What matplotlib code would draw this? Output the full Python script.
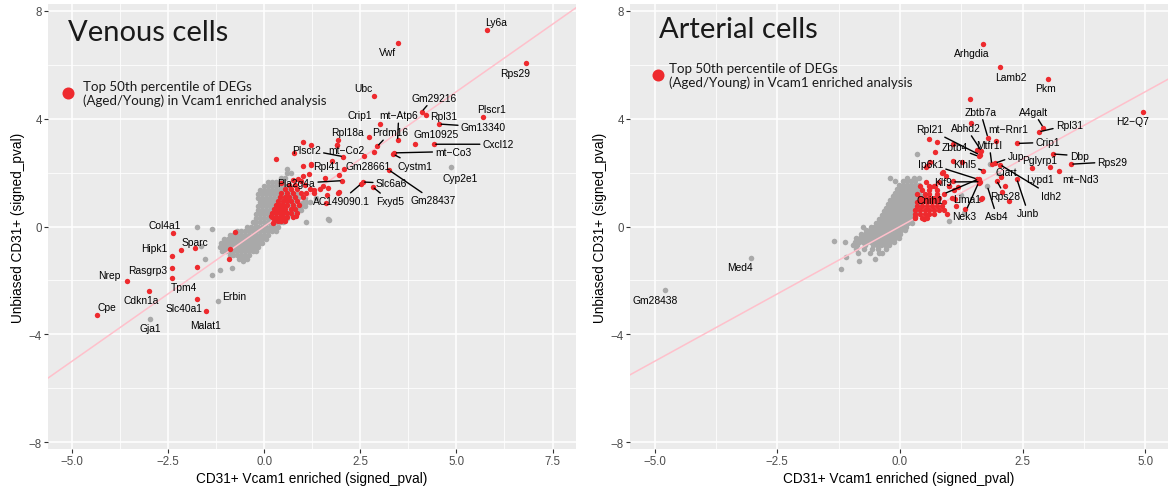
import matplotlib
matplotlib.use("Agg")
import matplotlib.pyplot as plt
from matplotlib.ticker import MultipleLocator

plt.rcParams['font.family'] = ['Liberation Sans', 'DejaVu Sans']

# ---------------- Venous cells ----------------
# background genes, one row per y level: (y, [x values])
venous_bg_rows = [
    (-1.2, [-0.65, -0.55, -0.45]),
    (-1.05, [-0.9, -0.8, -0.7, -0.6, -0.5, -0.4]),
    (-0.9, [-1.1, -1.0, -0.9, -0.8, -0.7, -0.6, -0.5, -0.4, -0.3, -0.2]),
    (-0.75, [-1.15, -1.05, -0.95, -0.85, -0.75, -0.65, -0.55, -0.45, -0.35, -0.25, -0.15]),
    (-0.6, [-1.12, -1.02, -0.92, -0.82, -0.72, -0.62, -0.52, -0.42, -0.32, -0.22, -0.12, -0.05]),
    (-0.45, [-1.05, -0.95, -0.85, -0.75, -0.65, -0.55, -0.45, -0.35, -0.25, -0.15, -0.05, 0.05]),
    (-0.3, [-0.9, -0.8, -0.7, -0.6, -0.5, -0.4, -0.3, -0.2, -0.1, 0.0, 0.1]),
    (-0.15, [-0.7, -0.6, -0.5, -0.4, -0.3, -0.2, -0.1, 0.0, 0.1, 0.2, 0.3]),
    (0.0, [-0.45, -0.35, -0.25, -0.15, -0.05, 0.05, 0.15, 0.25, 0.35]),
    (0.15, [-0.3, -0.2, -0.1, 0.0, 0.1, 0.2, 0.3, 0.4, 0.5]),
    (0.3, [-0.2, -0.1, 0.0, 0.1, 0.2, 0.3, 0.4, 0.5, 0.6]),
    (0.45, [-0.2, -0.1, 0.0, 0.1, 0.2, 0.3, 0.4, 0.5, 0.6, 0.7, 0.8]),
    (0.6, [-0.15, -0.05, 0.05, 0.15, 0.25, 0.35, 0.45, 0.55, 0.65, 0.75, 0.85, 0.95]),
    (0.75, [-0.15, -0.05, 0.05, 0.15, 0.25, 0.35, 0.45, 0.55, 0.65, 0.75, 0.85, 0.95, 1.05]),
    (0.9, [-0.12, -0.02, 0.08, 0.18, 0.28, 0.38, 0.48, 0.58, 0.68, 0.78, 0.88, 0.98, 1.08, 1.18]),
    (1.05, [-0.15, -0.05, 0.05, 0.15, 0.25, 0.35, 0.45, 0.55, 0.65, 0.75, 0.85, 0.95, 1.05, 1.35]),
    (1.2, [-0.15, -0.05, 0.05, 0.15, 0.25, 0.35, 0.45, 0.55, 0.65, 0.75, 0.85]),
    (1.35, [-0.1, 0.0, 0.1, 0.2, 0.3, 0.4, 0.5, 0.6, 0.7]),
    (1.5, [0.0, 0.1, 0.2, 0.3, 0.4, 0.5, 0.6]),
    (1.65, [0.1, 0.2, 0.3, 0.4, 0.5]),
    (1.8, [0.45, 0.55]),
    (2.0, [0.6, 0.7]),
    (2.15, [0.6]),
]
venous_bg_extra_x = [1.69, 1.09, 1.66, -1.74, -1.36, -1.54, -1.35, -1.15, -0.84, -0.54, -1.64]
venous_bg_extra_y = [0.25, 0.16, 0.26, -0.02, -0.09, -1.19, -1.81, -1.60, -1.54, -1.27, -0.73]

# highlighted (top 50th percentile) genes without a label
venous_top_x = [
    0.25, 0.35, 0.45, 0.55,
    0.2, 0.3, 0.4, 0.5, 0.6, 0.75,
    0.2, 0.3, 0.4, 0.5, 0.6, 0.7, 0.85,
    0.25, 0.35, 0.45, 0.55, 0.7, 0.8,
    0.3, 0.4, 0.5, 0.6, 0.75, 0.9,
    0.35, 0.5, 0.6, 0.7, 0.85,
    0.4, 0.55, 0.65, 0.8, 1.0,
    0.45, 0.6, 0.75, 0.95, 1.1, 1.3,
    0.55, 0.7, 0.85, 1.2, 1.45,
    0.45, 0.65, 0.8, 1.05, 1.3, 1.53, 1.65,
    0.75, 0.97, 1.01, 1.16, 1.92, 1.62, 1.01, 1.23,
    1.94, 1.63, 1.59, 1.96, 1.76, 2.59, 2.87, 1.02, 1.22, 0.78, 1.91, 1.90, 0.31,
    0.84, 0.19, 0.23, 0.32, 0.87,
    -0.76, -0.89, -0.92, -2.16, -1.75,
]
venous_top_y = [
    0.2, 0.2, 0.2, 0.2,
    0.35, 0.35, 0.35, 0.35, 0.35, 0.35,
    0.5, 0.5, 0.5, 0.5, 0.5, 0.5, 0.5,
    0.65, 0.65, 0.65, 0.65, 0.65, 0.65,
    0.8, 0.8, 0.8, 0.8, 0.8, 0.8,
    0.95, 0.95, 0.95, 0.95, 0.95,
    1.1, 1.1, 1.1, 1.1, 1.1,
    1.25, 1.25, 1.25, 1.25, 1.25, 1.25,
    1.4, 1.4, 1.4, 1.4, 1.4,
    1.62, 1.55, 1.55, 1.55, 1.35, 1.49, 1.43,
    1.72, 1.68, 1.86, 1.93, 1.25, 0.88, 2.23, 2.29,
    1.27, 1.16, 1.78, 1.90, 2.43, 2.60, 2.77, 3.12, 3.01, 2.74, 3.22, 3.01, 2.51,
    0.38, 0.38, 0.14, 0.69, 1.77,
    -0.20, -0.83, -1.22, -0.88, -1.51,
]

# labelled genes
venous_genes = ["Ly6a", "Vwf", "Rps29", "Ubc", "Gm29216", "Rpl31", "Plscr1", "Crip1",
                "mt\u2212Atp6", "Gm13340", "Rpl18a", "Prdm16", "Gm10925", "Cxcl12",
                "mt\u2212Co3", "Cystm1", "Plscr2", "mt\u2212Co2", "Rpl41", "Gm28661",
                "Gm28437", "Cyp2e1", "Pla2g4a", "Slc6a6", "Fxyd5", "AC149090.1",
                "Col4a1", "Hipk1", "Sparc", "Rasgrp3", "Nrep", "Tpm4", "Cdkn1a",
                "Slc40a1", "Erbin", "Malat1", "Cpe", "Gja1"]
venous_gene_x = [5.79, 3.47, 6.81, 2.87, 4.10, 4.22, 5.68, 3.02,
                 3.47, 4.55, 2.73, 2.94, 3.93, 4.41,
                 3.39, 3.36, 2.06, 1.90, 1.22, 2.07,
                 3.24, 4.85, 2.03, 2.56, 2.82, 2.52,
                 -2.36, -2.40, -1.80, -2.40, -3.57, -2.39, -3.00,
                 -1.74, -1.19, -1.50, -4.35, -2.96]
venous_gene_y = [7.27, 6.79, 6.07, 4.83, 4.26, 4.12, 4.05, 3.81,
                 3.19, 3.80, 3.32, 2.97, 3.06, 3.05,
                 2.73, 2.68, 2.59, 3.01, 2.30, 2.14,
                 2.10, 2.19, 1.70, 1.65, 1.47, 1.58,
                 -0.24, -1.09, -0.79, -1.53, -2.02, -1.91, -2.38,
                 -2.68, -2.78, -3.15, -3.28, -3.44]
venous_gene_top = [True, True, True, True, True, True, True, True,
                   True, True, True, True, True, True,
                   True, True, True, True, True, True,
                   True, False, True, True, True, True,
                   True, True, True, True, True, True, True,
                   True, False, True, True, False]

# ---------------- Arterial cells ----------------
arterial_bg_rows = [
    (-1.57, [-1.21]),
    (-1.27, [-0.83]),
    (-1.2, [-0.51]),
    (-1.14, [-1.09]),
    (-1.0, [-0.85, -0.62, -0.42, -0.37]),
    (-0.85, [-0.9, -0.74, -0.58, -0.44, -0.28]),
    (-0.7, [-0.95, -0.87, -0.71, -0.55, -0.47, -0.39, -0.31, -0.23]),
    (-0.56, [-1.12, -0.92, -0.84, -0.76, -0.68, -0.6, -0.52, -0.44, -0.36, -0.28, -0.2, -0.12]),
    (-0.53, [-1.34]),
    (-0.42, [-0.9, -0.82, -0.74, -0.66, -0.58, -0.5, -0.42, -0.34, -0.26, -0.18, -0.1, -0.02]),
    (-0.28, [-0.8, -0.72, -0.64, -0.56, -0.48, -0.4, -0.32, -0.24, -0.16, -0.08, 0.0]),
    (-0.14, [-0.7, -0.62, -0.54, -0.46, -0.38, -0.3, -0.22, -0.14, -0.06, 0.02, 0.1]),
    (0.0, [-0.75, -0.6, -0.52, -0.44, -0.36, -0.28, -0.2, -0.12, -0.04, 0.04, 0.12]),
    (0.14, [-0.48, -0.4, -0.32, -0.24, -0.16, -0.08, 0.0, 0.08, 0.16, 0.24]),
    (0.28, [-0.42, -0.34, -0.26, -0.18, -0.1, -0.02, 0.06, 0.14, 0.22]),
    (0.42, [-0.36, -0.28, -0.2, -0.12, -0.04, 0.04, 0.12, 0.2, 0.28]),
    (0.56, [-0.32, -0.24, -0.16, -0.08, 0.0, 0.08, 0.16, 0.24, 0.32]),
    (0.7, [-0.28, -0.2, -0.12, -0.04, 0.04, 0.12, 0.2, 0.28, 0.36]),
    (0.84, [-0.24, -0.16, -0.08, 0.0, 0.08, 0.16, 0.24, 0.32, 0.4]),
    (0.98, [-0.2, -0.12, -0.04, 0.04, 0.12, 0.2, 0.28, 0.36, 0.44]),
    (1.12, [-0.14, -0.06, 0.02, 0.1, 0.18, 0.26, 0.34, 0.42]),
    (1.26, [-0.1, -0.02, 0.06, 0.14, 0.22, 0.3, 0.38]),
    (1.4, [-0.06, 0.02, 0.1, 0.18, 0.26, 0.34, 0.42]),
    (1.54, [-0.02, 0.06, 0.14, 0.22, 0.3, 0.38]),
    (1.68, [-0.1, 0.06, 0.14, 0.22, 0.3]),
    (1.8, [-0.2, 0.14, 0.28, 0.38]),
]
arterial_bg_extra_x = [0.34, 1.83, 1.25, 1.0, 1.3, 2.0]
arterial_bg_extra_y = [2.69, 2.31, 1.15, 0.2, 0.5, 2.0]

arterial_top_x = [
    0.3, 0.45, 0.55,
    0.3, 0.4, 0.5, 0.6, 0.7, 0.95,
    0.3, 0.4, 0.5, 0.6, 0.7, 0.8, 0.9,
    0.35, 0.45, 0.55, 0.65, 0.75, 0.85, 1.15,
    0.35, 0.45, 0.55, 0.65, 0.75, 0.9,
    0.4, 0.5, 0.6, 0.7, 0.8, 1.05,
    0.35, 0.5, 0.6, 0.75, 0.9,
    0.45, 0.6, 0.75, 1.1,
    0.4, 0.6, 0.7, 1.0,
    0.52, 0.8, 0.61, 0.71, 0.86, 0.99, 0.48, 0.31,
    1.42, 1.45, 0.60, 0.75, 0.72, 1.07, 1.56, 1.27, 1.09, 0.87, 0.54, 0.61,
    0.94, 1.09, 1.19, 1.12, 1.32, 2.14, 2.07, 2.22, 0.56, 1.66,
]
arterial_top_y = [
    0.3, 0.3, 0.3,
    0.45, 0.45, 0.45, 0.45, 0.45, 0.45,
    0.6, 0.6, 0.6, 0.6, 0.6, 0.6, 0.6,
    0.75, 0.75, 0.75, 0.75, 0.75, 0.75, 0.75,
    0.9, 0.9, 0.9, 0.9, 0.9, 0.9,
    1.05, 1.05, 1.05, 1.05, 1.05, 1.05,
    1.2, 1.2, 1.2, 1.2, 1.2,
    1.35, 1.35, 1.35, 1.35,
    1.5, 1.5, 1.5, 1.5,
    1.66, 1.65, 1.45, 1.51, 2.0, 1.51, 0.28, 0.34,
    4.73, 3.82, 3.24, 3.14, 2.75, 3.06, 2.84, 2.38, 2.44, 2.03, 2.19, 2.38,
    1.86, 1.70, 1.45, 1.02, 0.65, 1.49, 1.29, 0.93, 2.25, 1.02,
]

arterial_genes = ["Arhgdia", "Lamb2", "Pkm", "H2\u2212Q7", "Zbtb7a", "A4galt", "Rpl31",
                  "mt\u2212Rnr1", "Crip1", "Rpl21", "Abhd2", "Zbtb4", "Mtfr1l", "Jup",
                  "Ip6k1", "Klhl5", "Klf9", "Cnih1", "Lima1", "Nek3", "Asb4", "Junb",
                  "Rps28", "Ciart", "Idh2", "Pglyrp1", "Dbp", "Rps29", "Lypd1",
                  "mt\u2212Nd3", "Med4", "Gm28438"]
arterial_gene_x = [1.69, 2.04, 3.01, 4.95, 1.79, 2.92, 2.83,
                   1.96, 2.39, 1.62, 1.66, 1.60, 1.87, 1.94,
                   1.57, 1.70, 1.63, 1.60, 1.68, 1.60, 1.78, 2.38,
                   1.97, 2.05, 2.04, 2.68, 3.11, 3.48, 3.06,
                   3.23, -3.04, -4.78]
arterial_gene_y = [6.78, 5.91, 5.47, 4.23, 3.30, 3.67, 3.51,
                   3.16, 3.08, 2.66, 2.80, 2.60, 2.31, 2.35,
                   1.76, 2.07, 1.66, 1.76, 1.04, 1.62, 1.49, 1.76,
                   1.70, 1.85, 2.29, 2.17, 2.69, 2.31, 2.19,
                   2.07, -1.17, -2.35]
arterial_gene_top = [True, True, True, True, True, True, True,
                     True, True, True, True, True, True, True,
                     True, True, True, True, True, True, False, True,
                     True, True, True, True, True, True, True,
                     True, False, False]

# label placement (text centre) and which labels get a leader segment
venous_label_pos = {
    "Ly6a": (6.04, 7.57), "Vwf": (3.22, 6.46), "Rps29": (6.52, 5.71), "Ubc": (2.59, 5.14),
    "Gm29216": (4.41, 4.77), "Rpl31": (4.67, 4.11), "Plscr1": (5.91, 4.36), "Crip1": (2.49, 4.15),
    "mt\u2212Atp6": (3.50, 4.12), "Gm13340": (5.70, 3.69), "Rpl18a": (2.17, 3.52),
    "Prdm16": (3.29, 3.49), "Gm10925": (4.48, 3.42), "Cxcl12": (6.09, 3.05),
    "mt\u2212Co3": (4.92, 2.78), "Cystm1": (3.92, 2.26), "Plscr2": (1.10, 2.85),
    "mt\u2212Co2": (2.14, 2.85), "Rpl41": (1.62, 2.23), "Gm28661": (2.70, 2.23),
    "Gm28437": (4.40, 0.97), "Cyp2e1": (5.09, 1.81), "Pla2g4a": (0.84, 1.60),
    "Slc6a6": (3.31, 1.60), "Fxyd5": (3.27, 0.95), "AC149090.1": (2.01, 0.96),
    "Col4a1": (-2.59, 0.07), "Hipk1": (-2.86, -0.81), "Sparc": (-1.79, -0.56),
    "Rasgrp3": (-3.02, -1.62), "Nrep": (-4.02, -1.78), "Tpm4": (-2.08, -2.25),
    "Cdkn1a": (-3.19, -2.73), "Slc40a1": (-2.08, -3.01), "Erbin": (-0.79, -2.58),
    "Malat1": (-1.52, -3.66), "Cpe": (-4.10, -2.97), "Gja1": (-2.95, -3.77),
}
venous_segments = {"Gm29216", "mt\u2212Atp6", "Gm13340", "Prdm16", "Cxcl12", "mt\u2212Co3",
                   "Cystm1", "Plscr2", "Gm28437", "Pla2g4a", "Slc6a6", "Fxyd5", "AC149090.1"}

arterial_label_pos = {
    "Arhgdia": (1.47, 6.45), "Lamb2": (2.25, 5.56), "Pkm": (2.97, 5.14), "H2\u2212Q7": (4.74, 3.90),
    "Zbtb7a": (1.64, 4.25), "A4galt": (2.72, 4.25), "Rpl31": (3.45, 3.77),
    "mt\u2212Rnr1": (2.20, 3.62), "Crip1": (3.01, 3.12), "Rpl21": (0.60, 3.60),
    "Abhd2": (1.35, 3.65), "Zbtb4": (1.11, 2.94), "Mtfr1l": (1.82, 3.02), "Jup": (2.36, 2.62),
    "Ip6k1": (0.62, 2.31), "Klhl5": (1.31, 2.31), "Klf9": (0.88, 1.65), "Cnih1": (0.61, 0.99),
    "Lima1": (1.36, 1.02), "Nek3": (1.30, 0.40), "Asb4": (1.97, 0.38), "Junb": (2.61, 0.50),
    "Rps28": (2.14, 1.14), "Ciart": (2.17, 2.01), "Idh2": (3.08, 1.14), "Pglyrp1": (2.85, 2.46),
    "Dbp": (3.65, 2.62), "Rps29": (4.33, 2.40), "Lypd1": (2.85, 1.75), "mt\u2212Nd3": (3.68, 1.75),
    "Med4": (-3.26, -1.51), "Gm28438": (-4.98, -2.71),
}
arterial_segments = {"Zbtb7a", "A4galt", "Rpl31", "Crip1", "Rpl21", "Abhd2", "Zbtb4",
                     "Mtfr1l", "Jup", "Ip6k1", "Klhl5", "Klf9", "Cnih1", "Nek3", "Asb4",
                     "Junb", "Rps28", "Idh2", "Dbp", "Rps29"}

titles = ["Venous cells", "Arterial cells"]
legend_text = "Top 50th percentile of DEGs\n(Aged/Young) in Vcam1 enriched analysis"
x_label = "CD31+ Vcam1 enriched (signed_pval)"
y_label = "Unbiased CD31+ (signed_pval)"

GREY = "#A9A9A9"
RED = "#EE2A2E"
PANEL_BG = "#EBEBEB"
TITLE_FONT = ["Lato", "DejaVu Sans"]


def flatten(rows):
    xs, ys = [], []
    for y, row in rows:
        for x in row:
            xs.append(x)
            ys.append(y)
    return xs, ys


def style_axes(ax, xlim, xmajor):
    ax.set_facecolor(PANEL_BG)
    for s in ax.spines.values():
        s.set_visible(False)
    ax.set_xlim(*xlim)
    ax.set_ylim(-8.25, 8.25)
    ax.xaxis.set_major_locator(MultipleLocator(xmajor))
    ax.xaxis.set_minor_locator(MultipleLocator(xmajor / 2))
    ax.yaxis.set_major_locator(MultipleLocator(4))
    ax.yaxis.set_minor_locator(MultipleLocator(2))
    ax.xaxis.set_major_formatter(matplotlib.ticker.FuncFormatter(
        lambda v, p: ("%.1f" % v).replace("-", "\u2212")))
    ax.yaxis.set_major_formatter(matplotlib.ticker.FuncFormatter(
        lambda v, p: ("%d" % round(v)).replace("-", "\u2212")))
    ax.grid(which="major", color="white", lw=1.1)
    ax.grid(which="minor", color="white", lw=0.55)
    ax.set_axisbelow(True)
    ax.tick_params(which="major", length=2.8, width=0.8, color="#333333",
                   labelcolor="#4D4D4D", labelsize=8.3, pad=1.5)
    ax.tick_params(which="minor", length=0)
    ax.set_xlabel(x_label, fontsize=9.8, labelpad=3)
    ax.set_ylabel(y_label, fontsize=9.8, labelpad=3)


def draw_panel(ax, bg_rows, bg_x, bg_y, top_x, top_y, genes, gx, gy, gtop,
               label_pos, segments, xlim, xmajor, title, title_xy, leg_xy):
    style_axes(ax, xlim, xmajor)
    bx, by = flatten(bg_rows)
    bx += bg_x
    by += bg_y
    gene_bg_x = [x for x, t in zip(gx, gtop) if not t]
    gene_bg_y = [y for y, t in zip(gy, gtop) if not t]
    ax.scatter(bx + gene_bg_x, by + gene_bg_y, s=16, c=GREY, lw=0, zorder=2)
    ax.plot([-10, 10], [-10, 10], color="#FFC0CB", lw=1.1, zorder=3)
    gene_top_x = [x for x, t in zip(gx, gtop) if t]
    gene_top_y = [y for y, t in zip(gy, gtop) if t]
    ax.scatter(top_x + gene_top_x, top_y + gene_top_y, s=15, c=RED, lw=0, zorder=4)
    for name, x, y in zip(genes, gx, gy):
        lx, ly = label_pos[name]
        props = None
        if name in segments:
            props = dict(arrowstyle="-", color="black", lw=1.0, shrinkA=0, shrinkB=1.5)
        ax.annotate(name, xy=(x, y), xytext=(lx, ly), ha="center", va="center",
                    fontsize=7.4, color="black", arrowprops=props, zorder=5)
    ax.text(title_xy[0], title_xy[1], title, fontsize=21, family=TITLE_FONT,
            color="#1A1A1A", ha="left", va="center", zorder=6)
    ax.scatter([leg_xy[0]], [leg_xy[1]], s=75, c=RED, lw=0, zorder=6)
    ax.text(leg_xy[2], leg_xy[1], legend_text, fontsize=9.6, family=TITLE_FONT,
            color="#1A1A1A", ha="left", va="center", linespacing=1.2, zorder=6)


fig = plt.figure(figsize=(11.73, 4.89), dpi=100)
W, H = 1173, 489
ax1 = fig.add_axes([48 / W, 39 / H, (576 - 48) / W, 445 / H])
ax2 = fig.add_axes([630 / W, 39 / H, (1168 - 630) / W, 445 / H])

draw_panel(ax1, venous_bg_rows, venous_bg_extra_x, venous_bg_extra_y,
           venous_top_x, venous_top_y, venous_genes, venous_gene_x, venous_gene_y,
           venous_gene_top, venous_label_pos, venous_segments,
           (-5.62, 8.11), 2.5, titles[0], (-5.09, 7.22), (-5.11, 4.95, -4.70))
draw_panel(ax2, arterial_bg_rows, arterial_bg_extra_x, arterial_bg_extra_y,
           arterial_top_x, arterial_top_y, arterial_genes, arterial_gene_x, arterial_gene_y,
           arterial_gene_top, arterial_label_pos, arterial_segments,
           (-5.5, 5.46), 2.5, titles[1], (-4.91, 7.31), (-4.93, 5.62, -4.71))

fig.savefig("out.png", dpi=100)
